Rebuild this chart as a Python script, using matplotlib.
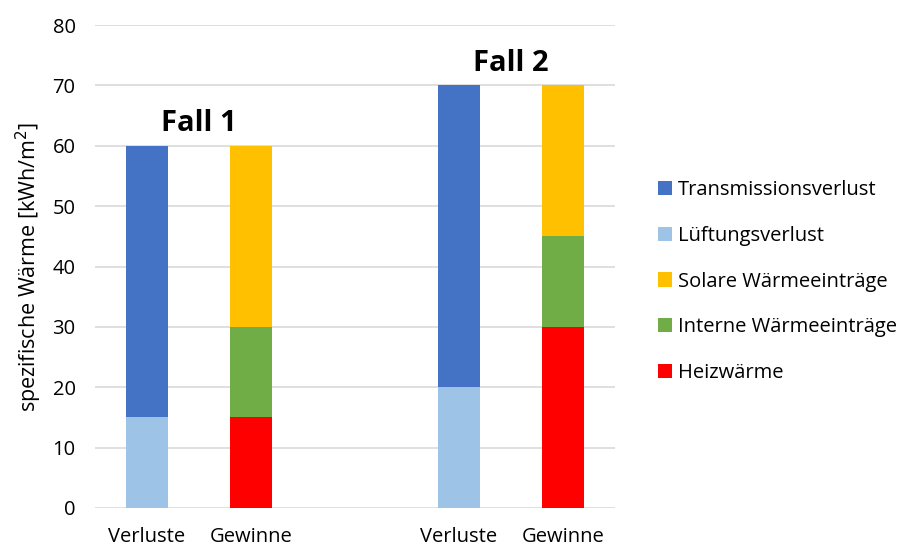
import numpy as np
import matplotlib
matplotlib.use('Agg')
import matplotlib.pyplot as plt
from matplotlib.patches import Patch

plt.rcParams["font.family"] = ["Open Sans", "DejaVu Sans"]

# Data
categories = ["Verluste", "Gewinne", "Verluste", "Gewinne"]
positions = [0, 1, 3, 4]
series = ["Transmissionsverlust", "Lüftungsverlust", "Solare Wärmeeinträge",
          "Interne Wärmeeinträge", "Heizwärme"]
colors = ["#4472C4", "#9DC3E6", "#FFC000", "#70AD47", "#FF0000"]
# stacking order from bottom: Lüftung, Transmission | Heiz, Intern, Solar
luftung = [15, 0, 20, 0]
transmission = [45, 0, 50, 0]
heiz = [0, 15, 0, 30]
intern = [0, 15, 0, 15]
solar = [0, 30, 0, 25]
fall_labels = ["Fall 1", "Fall 2"]
fall_pos = [0.5, 3.5]
fall_tops = [60, 70]

fig = plt.figure(figsize=(9.09, 5.5), dpi=100)
ax0 = fig.add_axes([0.1045, 0.0764, 0.572, 0.878])

for y in range(0, 90, 10):
    ax0.axhline(y, color="#D9D9D9", linewidth=1.2, zorder=0)

w = 0.4
x = np.array(positions)
ax0.bar(x, luftung, w, color=colors[1], zorder=2)
ax0.bar(x, transmission, w, bottom=luftung, color=colors[0], zorder=2)
ax0.bar(x, heiz, w, color=colors[4], zorder=2)
ax0.bar(x, intern, w, bottom=heiz, color=colors[3], zorder=2)
ax0.bar(x, solar, w, bottom=np.array(heiz) + np.array(intern), color=colors[2], zorder=2)

for lab, p, t in zip(fall_labels, fall_pos, fall_tops):
    ax0.text(p, t + 1.3, lab, ha="center", va="bottom", fontsize=21, fontweight="bold")

ax0.set_xlim(-0.5, 4.5)
ax0.set_ylim(0, 80)
ax0.set_yticks(range(0, 90, 10))
ax0.set_xticks(positions)
ax0.set_xticklabels(categories)
ax0.tick_params(axis='both', length=0, labelsize=14.5)
ax0.tick_params(axis='y', pad=14)
ax0.tick_params(axis='x', pad=14)
for s in ax0.spines.values():
    s.set_visible(False)
ax0.set_ylabel("spezifische Wärme [kWh/m$^2$]", fontsize=15.5, labelpad=6)

handles = [Patch(facecolor=c, edgecolor="none") for c in colors]
fig.legend(handles, series, loc="upper left", bbox_to_anchor=(0.704, 0.705),
           frameon=False, fontsize=14.5, handlelength=0.7, handleheight=0.7,
           handletextpad=0.3, labelspacing=1.27)

plt.savefig("out.png", dpi=100)
plt.close()
